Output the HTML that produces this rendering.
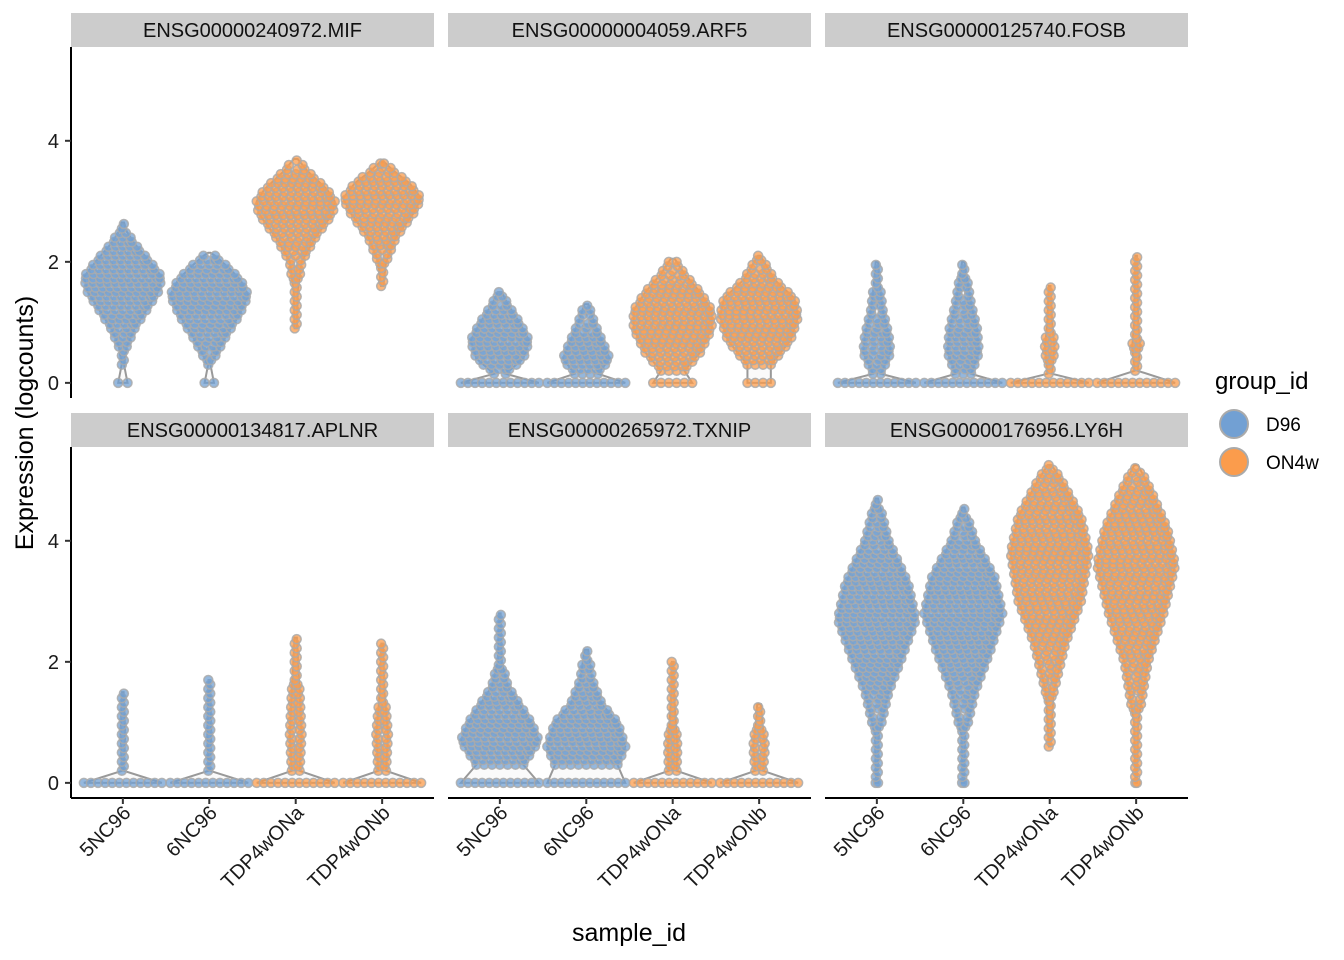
<!DOCTYPE html>
<html><head><meta charset="utf-8"><style>
body{margin:0;background:#fff}
svg{display:block;font-family:"Liberation Sans",Arial,sans-serif}
</style></head><body>
<svg id="chart" width="1344" height="960" viewBox="0 0 1344 960">
<g id="panels"></g>
<g id="legend">
<text x="1215" y="389" font-size="24">group_id</text>
<g><circle cx="1234" cy="424" r="14" fill="#72a0d3" stroke="#aaa" stroke-width="2"/><text x="1266" y="431" font-size="19">D96</text></g>
<g><circle cx="1234" cy="462" r="14" fill="#fb9c4c" stroke="#aaa" stroke-width="2"/><text x="1266" y="469" font-size="19">ON4w</text></g>
</g>
<text x="629" y="941" font-size="25" text-anchor="middle">sample_id</text>
<text transform="translate(33,423) rotate(-90)" font-size="25" text-anchor="middle">Expression (logcounts)</text>
</svg>
<script>
const genes = ["ENSG00000240972.MIF","ENSG00000004059.ARF5","ENSG00000125740.FOSB","ENSG00000134817.APLNR","ENSG00000265972.TXNIP","ENSG00000176956.LY6H"];
const samples = ["5NC96","6NC96","TDP4wONa","TDP4wONb"];
const groups = ["D96","D96","ON4w","ON4w"];
const yTicks = [0,2,4];
// zero-row width (fraction of max half-width) per gene x sample
const zeroWidth = [
 [0.12,0.12,0,0],
 [1,1,0.5,0.3],
 [1,1,1,1],
 [1,1,1,1],
 [1,1,1,1],
 [0.03,0.03,0,0.02]
];
// violin density profiles [expression, relative half-width]
const profiles = [
 [
  [[0.3,0.03],[0.6,0.1],[0.9,0.3],[1.2,0.6],[1.5,0.9],[1.75,1],[2.0,0.7],[2.3,0.3],[2.5,0.1],[2.65,0.03]],
  [[0.3,0.03],[0.5,0.2],[0.8,0.45],[1.1,0.75],[1.45,1],[1.7,0.8],[1.9,0.5],[2.1,0.15],[2.15,0.03]],
  [[0.9,0.03],[1.5,0.05],[2.0,0.15],[2.4,0.5],[2.8,0.95],[3.0,1],[3.2,0.8],[3.5,0.3],[3.7,0.05]],
  [[1.6,0.03],[2.0,0.1],[2.4,0.35],[2.8,0.8],[3.05,1],[3.3,0.7],[3.5,0.3],[3.65,0.05]]
 ],
 [
  [[0.15,0.15],[0.4,0.6],[0.7,0.75],[1.0,0.5],[1.3,0.2],[1.5,0.05]],
  [[0.15,0.3],[0.4,0.6],[0.7,0.4],[1.0,0.2],[1.3,0.05]],
  [[0.2,0.3],[0.5,0.7],[0.9,1],[1.2,1],[1.5,0.7],[1.8,0.3],[2.05,0.05]],
  [[0.3,0.3],[0.7,0.8],[1.1,1],[1.4,0.9],[1.7,0.4],[2.1,0.03]]
 ],
 [
  [[0.15,0.1],[0.5,0.35],[0.8,0.3],[1.2,0.15],[1.6,0.08],[2.0,0.03]],
  [[0.15,0.2],[0.5,0.4],[0.9,0.35],[1.3,0.2],[1.7,0.1],[2.0,0.03]],
  [[0.15,0.06],[0.6,0.12],[1.0,0.06],[1.6,0.02]],
  [[0.2,0.04],[0.6,0.1],[1.0,0.05],[2.1,0.02]]
 ],
 [
  [[0.2,0.02],[0.8,0.06],[1.5,0.02]],
  [[0.2,0.02],[0.8,0.05],[1.7,0.02]],
  [[0.2,0.1],[0.8,0.15],[1.5,0.1],[2.4,0.03]],
  [[0.2,0.1],[0.8,0.15],[1.5,0.06],[2.3,0.02]]
 ],
 [
  [[0.3,0.6],[0.7,1],[1.0,0.8],[1.3,0.5],[1.6,0.2],[2.0,0.05],[2.8,0.02]],
  [[0.3,0.8],[0.6,1],[1.0,0.8],[1.3,0.4],[1.7,0.15],[2.2,0.05]],
  [[0.2,0.1],[0.6,0.12],[1.0,0.08],[1.5,0.03],[2.0,0.02]],
  [[0.2,0.1],[0.6,0.15],[1.0,0.08],[1.3,0.05]]
 ],
 [
  [[0.1,0.02],[0.8,0.05],[1.5,0.3],[2.0,0.6],[2.7,1],[3.3,0.8],[4.0,0.3],[4.7,0.03]],
  [[0.1,0.02],[0.8,0.05],[1.5,0.3],[2.2,0.7],[2.8,1],[3.4,0.8],[4.0,0.3],[4.55,0.03]],
  [[0.6,0.02],[1.5,0.1],[2.3,0.4],[3.0,0.8],[3.8,1],[4.4,0.8],[5.0,0.3],[5.25,0.05]],
  [[0.1,0.02],[1.0,0.05],[2.0,0.3],[2.8,0.7],[3.6,1],[4.2,0.8],[4.8,0.4],[5.25,0.05]]
 ]
];
const colors = {D96:"#72a0d3", ON4w:"#fb9c4c"};
const NS="http://www.w3.org/2000/svg";
const panelX=[71,448,825], panelW=363, rowTop=[47,447], panelH=351;
const yMin=-0.25, yMax=5.55, maxHalf=39;
function mk(tag,attrs,parent){const e=document.createElementNS(NS,tag);for(const k in attrs)e.setAttribute(k,attrs[k]);parent.appendChild(e);return e;}
function yScale(v,r){return rowTop[r]+panelH*(yMax-v)/(yMax-yMin);}
function xScale(i,c){return panelX[c]+panelW*(i+0.6)/4.2;}
function widthAt(prof,v){
 if(v<prof[0][0]||v>prof[prof.length-1][0])return 0;
 for(let i=0;i<prof.length-1;i++){const a=prof[i],b=prof[i+1];if(v>=a[0]&&v<=b[0])return a[1]+(b[1]-a[1])*(v-a[0])/(b[0]-a[0]);}
 return prof[prof.length-1][1];
}
const root=document.getElementById('panels');
genes.forEach((g,gi)=>{
 const r=Math.floor(gi/3), c=gi%3;
 const pg=mk('g',{},root);
 
 
 const st=mk('rect',{x:panelX[c],y:rowTop[r]-34,width:panelW,height:34,fill:'#cccccc'},pg);
 
 
 const stt=mk('text',{x:panelX[c]+panelW/2,y:rowTop[r]-10,'font-size':20,'text-anchor':'middle',fill:'#111'},pg);
 stt.textContent=g;
 
 
 samples.forEach((s,si)=>{
  const prof=profiles[gi][si], zw=zeroWidth[gi][si], cx=xScale(si,c), col=colors[groups[si]];
  const vg=mk('g',{},pg);
  
  
  const pts=zw>0?[[0,zw]].concat(prof):prof.slice();
  let left=[],right=[];
  pts.forEach(p=>{const y=yScale(p[0],r),w=Math.max(p[1],0.015)*maxHalf;right.push((cx+w)+','+y);left.unshift((cx-w)+','+y);});
  const top=yScale(prof[prof.length-1][0],r);
  mk('path',{d:'M'+right.join(' L')+' L'+cx+','+top+' L'+left.join(' L')+' Z',fill:'#fafafa',stroke:'#999',"stroke-width":2},vg);
  const dg=mk('g',{fill:col,'fill-opacity':0.75,stroke:'#aaa','stroke-opacity':0.85,'stroke-width':1.5},vg);
  if(zw>0){
   const hw=zw*maxHalf;const n=Math.max(1,Math.floor(2*hw/7));
   for(let k=0;k<=n;k++){const x=n?cx-hw+2*hw*k/n:cx;mk('circle',{cx:x,cy:yScale(0,r),r:4.5},dg);}
  }
  const y0=prof[0][0], y1=prof[prof.length-1][0];
  let row=0;
  for(let v=y0;v<=y1+1e-6;v+=0.075,row++){
   const hw=widthAt(prof,v)*maxHalf;
   const n=Math.floor(2*hw/7);
   const off=(row%2)*3.5;
   if(n<1){mk('circle',{cx:cx+(row%2?1:-1),cy:yScale(v,r),r:4.5},dg);continue;}
   for(let k=0;k<=n;k++){const x=cx-hw+2*hw*k/n+(k<n?off*0.5:-off*0.5);mk('circle',{cx:x,cy:yScale(v,r),r:4.5},dg);}
  }
 });
 if(c===0){
  const ax=mk('g',{},pg);
  
  
  mk('line',{x1:71,x2:71,y1:rowTop[r],y2:rowTop[r]+panelH,stroke:'#000','stroke-width':2},ax);
  yTicks.forEach(t=>{const y=yScale(t,r);mk('line',{x1:65,x2:71,y1:y,y2:y,stroke:'#333','stroke-width':2},ax);const tt=mk('text',{x:59,y:y+7,'font-size':20,'text-anchor':'end',fill:'#1a1a1a'},ax);tt.textContent=t;});
 }
 if(r===1){
  const ax=mk('g',{},pg);
  
  
  const yb=rowTop[r]+panelH;
  mk('line',{x1:panelX[c],x2:panelX[c]+panelW,y1:yb,y2:yb,stroke:'#000','stroke-width':2},ax);
  samples.forEach((s,si)=>{const x=xScale(si,c);mk('line',{x1:x,x2:x,y1:yb,y2:yb+6,stroke:'#333','stroke-width':2},ax);const tt=mk('text',{transform:'translate('+(x+9)+','+(yb+16)+') rotate(-45)','font-size':20,'text-anchor':'end',fill:'#1a1a1a'},ax);tt.textContent=s;});
 }
});
</script>
</body></html>
